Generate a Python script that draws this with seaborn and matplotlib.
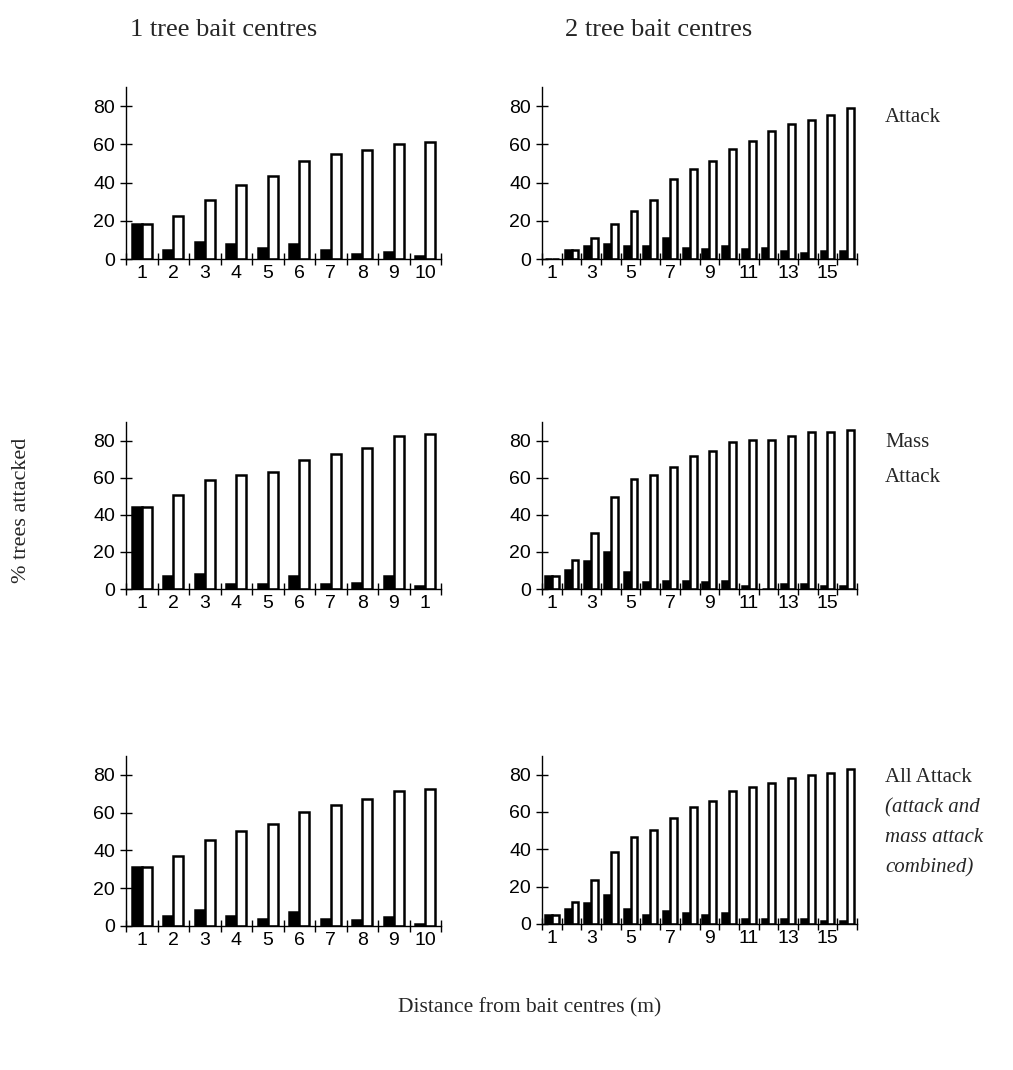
import numpy as np
import pandas as pd
import matplotlib
matplotlib.use("Agg")
import matplotlib.pyplot as plt
import seaborn as sns
from matplotlib.ticker import FixedLocator, NullFormatter, FixedFormatter

# ---------------- data ----------------
one_tree_labels = ["1", "2", "3", "4", "5", "6", "7", "8", "9", "10"]
one_tree_labels_mass = ["1", "2", "3", "4", "5", "6", "7", "8", "9", "1"]
two_tree_labels = ["1", "", "3", "", "5", "", "7", "", "9", "", "11", "", "13", "", "15", ""]

one_attack_at = [18.5, 4.5, 9, 8, 5.5, 8, 4.5, 2.5, 3.5, 1.5]
one_attack_cum = [18.5, 22.5, 31, 38.5, 43.5, 51.5, 55, 57, 60, 61]
two_attack_at = [0, 4.5, 7, 8, 7, 7, 11, 6, 5, 7, 5, 6, 4, 3, 4, 4]
two_attack_cum = [0, 4.5, 11, 18.5, 25, 31, 42, 47, 51.5, 57.5, 62, 67, 70.5, 72.5, 75.5, 79]

one_mass_at = [44, 7, 8, 2.5, 2.5, 7, 2.5, 3.5, 7, 1.5]
one_mass_cum = [44, 50.5, 58.5, 61.5, 63, 69.5, 72.5, 76, 82.5, 83.5]
two_mass_at = [7, 10.5, 15, 20, 9, 4, 4.5, 4.5, 4, 4.5, 1.5, 0, 2.5, 2.5, 1.5, 1.5]
two_mass_cum = [7, 15.5, 30, 49.5, 59.5, 61.5, 66, 71.5, 74.5, 79, 80.5, 80.5, 82.5, 84.5, 84.5, 85.5]

one_all_at = [31.5, 5.5, 8.5, 5.5, 3.5, 7.5, 3.5, 3, 5, 1]
one_all_cum = [31.5, 37, 45.5, 50.5, 54, 60.5, 64, 67, 71.5, 72.5]
two_all_at = [5, 8, 11.5, 15.5, 8, 5, 7, 6, 5, 6, 2.5, 2.5, 2.5, 2.5, 1.5, 1.5]
two_all_cum = [5, 12, 23.5, 38.5, 46.5, 50.5, 57, 62.5, 66, 71.5, 73.5, 75.5, 78, 80, 81, 83]

series_names = ["At distance", "Cumulative"]
y_ticks = [0, 20, 40, 60, 80]

col_titles = ["1 tree bait centres", "2 tree bait centres"]
row_titles = ["Attack", "Mass\nAttack", "All Attack"]
row3_note = "(attack and\nmass attack\ncombined)"
y_label = "% trees attacked"
x_label = "Distance from bait centres (m)"

# ---------------- style ----------------
sns.set_style("white")
plt.rcParams["font.family"] = ["Liberation Sans", "DejaVu Sans"]
SERIF = ["Liberation Serif", "DejaVu Serif"]

W, H = 1013, 1070
fig = plt.figure(figsize=(W / 100, H / 100), dpi=100)
fig.patch.set_facecolor("white")

def frac_rect(x0, x1, ytop, ybot):
    return [x0 / W, 1 - ybot / H, (x1 - x0) / W, (ybot - ytop) / H]

rects = [
    [frac_rect(126, 441, 87, 259), frac_rect(542, 857, 87, 259)],
    [frac_rect(126, 441, 422, 589), frac_rect(542, 857, 422, 589)],
    [frac_rect(126, 441, 756, 926), frac_rect(542, 857, 756, 924)],
]

panels = [
    [(one_attack_at, one_attack_cum, one_tree_labels), (two_attack_at, two_attack_cum, two_tree_labels)],
    [(one_mass_at, one_mass_cum, one_tree_labels_mass), (two_mass_at, two_mass_cum, two_tree_labels)],
    [(one_all_at, one_all_cum, one_tree_labels), (two_all_at, two_all_cum, two_tree_labels)],
]

for r in range(3):
    for c in range(2):
        at, cum, labels = panels[r][c]
        n = len(at)
        df = pd.DataFrame({
            "pos": list(range(n)) * 2,
            "value": list(at) + list(cum),
            "series": [series_names[0]] * n + [series_names[1]] * n,
        })
        ax = fig.add_axes(rects[r][c])
        sns.barplot(data=df, x="pos", y="value", hue="series",
                    hue_order=series_names, palette=["black", "white"],
                    edgecolor="black", linewidth=1.8,
                    width=0.64 if c == 0 else 0.7, gap=0,
                    legend=False, ax=ax, errorbar=None)
        ax.set_xlim(-0.5, n - 0.5)
        ax.set_ylim(0, 90)
        ax.set_xlabel("")
        ax.set_ylabel("")
        ax.set_facecolor("none")
        for s in ["top", "right"]:
            ax.spines[s].set_visible(False)
        for s in ["left", "bottom"]:
            ax.spines[s].set_linewidth(1.0)
            ax.spines[s].set_color("black")
        ax.set_yticks(y_ticks)
        ax.set_yticklabels([str(v) for v in y_ticks])
        ax.xaxis.set_major_locator(FixedLocator(np.arange(n + 1) - 0.5))
        ax.xaxis.set_major_formatter(NullFormatter())
        ax.xaxis.set_minor_locator(FixedLocator(np.arange(n)))
        ax.xaxis.set_minor_formatter(FixedFormatter(labels))
        ax.tick_params(axis="x", which="major", direction="inout", length=8,
                       width=1.0, color="black", bottom=True)
        ax.tick_params(axis="x", which="minor", length=0, labelsize=14, pad=4,
                       labelcolor="black", bottom=True)
        ax.tick_params(axis="y", which="major", direction="inout", length=8,
                       width=1.0, color="black", labelsize=14, pad=4,
                       labelcolor="black", left=True)

# ---------------- text ----------------
fig.text(130 / W, 1 - 30 / H, col_titles[0], fontsize=19, family=SERIF, va="center", ha="left")
fig.text(565 / W, 1 - 30 / H, col_titles[1], fontsize=19, family=SERIF, va="center", ha="left")
fig.text(885 / W, 1 - 117 / H, row_titles[0], fontsize=15, family=SERIF, va="center", ha="left")
fig.text(885 / W, 1 - 460 / H, row_titles[1], fontsize=15, family=SERIF, va="center", ha="left",
         linespacing=2.2)
fig.text(885 / W, 1 - 778 / H, row_titles[2], fontsize=15, family=SERIF, va="center", ha="left")
fig.text(885 / W, 1 - 838 / H, row3_note, fontsize=15, family=SERIF, style="italic",
         va="center", ha="left", linespacing=1.75)
fig.text(22 / W, 1 - 510 / H, y_label, fontsize=16, family=SERIF, rotation=90,
         va="center", ha="center")
fig.text(530 / W, 1 - 1008 / H, x_label, fontsize=15.5, family=SERIF, va="center", ha="center")

fig.savefig("out.png", dpi=100, facecolor="white")
